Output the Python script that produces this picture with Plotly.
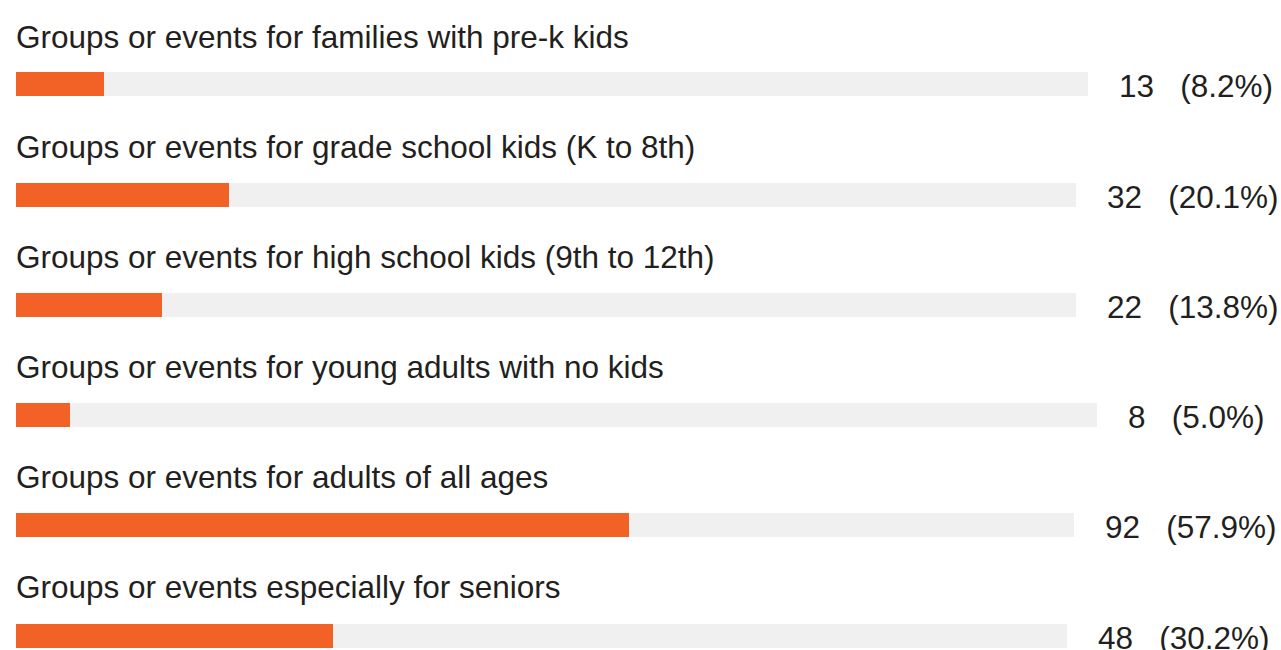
import plotly.graph_objects as go

# Survey responses: interest in groups/events by audience
categories = [
    "Groups or events for families with pre-k kids",
    "Groups or events for grade school kids (K to 8th)",
    "Groups or events for high school kids (9th to 12th)",
    "Groups or events for young adults with no kids",
    "Groups or events for adults of all ages",
    "Groups or events especially for seniors",
]
counts = [13, 32, 22, 8, 92, 48]
percents = [8.2, 20.1, 13.8, 5.0, 57.9, 30.2]

# Layout geometry (pixels)
W, H = 1281, 650
BAR_LEFT = 16
TRACK_RIGHT = [1088, 1076, 1076, 1097, 1074, 1067]
BAR_CENTER = [84, 195, 305, 415, 525, 636]
LABEL_CENTER = [37, 147, 257, 367, 477, 587]
BAR_H = 24

ORANGE = "#F26125"
TRACK = "#F0F0F0"
TEXT = "#231F20"
FONT = "Liberation Sans, Arial, sans-serif"
FONT_SIZE = 31.5


def px_x(v):
    return v / W


def px_y(v):
    return 1 - v / H


fig = go.Figure()
annotations = []
layout_axes = {}

for i, (cat, n, pct) in enumerate(zip(categories, counts, percents)):
    k = "" if i == 0 else str(i + 1)
    xa, ya = f"x{k}", f"y{k}"
    # background track spanning 0-100 %
    fig.add_trace(go.Bar(
        x=[100], y=[0], orientation="h", marker=dict(color=TRACK, line=dict(width=0)),
        width=1, xaxis=xa, yaxis=ya, hoverinfo="skip", showlegend=False,
    ))
    # share of respondents
    fig.add_trace(go.Bar(
        x=[pct], y=[0], orientation="h", marker=dict(color=ORANGE, line=dict(width=0)),
        width=1, xaxis=xa, yaxis=ya, showlegend=False,
        hovertemplate=f"{cat}<br>{n} ({pct:.1f}%)<extra></extra>",
    ))
    layout_axes[f"xaxis{k}"] = dict(
        domain=[px_x(BAR_LEFT), px_x(TRACK_RIGHT[i])], range=[0, 100],
        visible=False, fixedrange=True, anchor=ya,
    )
    layout_axes[f"yaxis{k}"] = dict(
        domain=[px_y(BAR_CENTER[i] + BAR_H / 2), px_y(BAR_CENTER[i] - BAR_H / 2)],
        range=[-0.5, 0.5], visible=False, fixedrange=True, anchor=xa,
    )
    annotations.append(dict(
        text=cat, xref="paper", yref="paper",
        x=px_x(BAR_LEFT - 2), y=px_y(LABEL_CENTER[i]),
        xanchor="left", yanchor="middle", showarrow=False,
        font=dict(family=FONT, size=FONT_SIZE, color=TEXT),
    ))
    annotations.append(dict(
        text=f"{n}\u00a0\u00a0\u00a0({pct:.1f}%)", xref="paper", yref="paper",
        x=px_x(TRACK_RIGHT[i] + 29), y=px_y(BAR_CENTER[i] + 2),
        xanchor="left", yanchor="middle", showarrow=False,
        font=dict(family=FONT, size=FONT_SIZE, color=TEXT),
    ))

fig.update_layout(
    width=W, height=H,
    margin=dict(l=0, r=0, t=0, b=0),
    paper_bgcolor="white", plot_bgcolor="rgba(0,0,0,0)",
    barmode="overlay", bargap=0,
    annotations=annotations,
    **layout_axes,
)

fig.write_html("out.html", config={"displayModeBar": False})
